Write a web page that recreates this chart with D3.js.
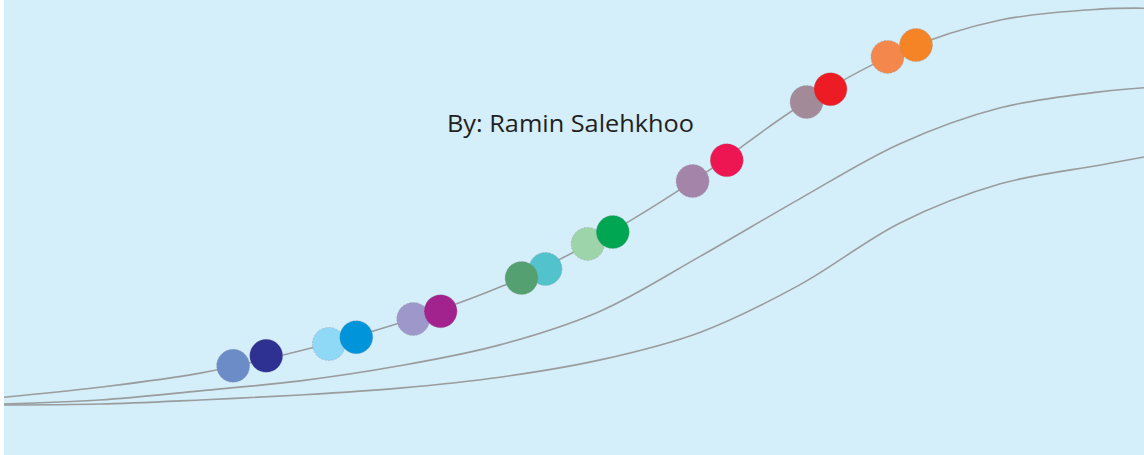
<!DOCTYPE html>
<html>
<head>
<meta charset="utf-8">
<script src="https://cdn.jsdelivr.net/npm/d3@7"></script>
<style>
  html, body { margin: 0; padding: 0; background: #ffffff; }
  svg { display: block; }
</style>
</head>
<body>
<svg id="chart" width="1144" height="455"></svg>
<script>
// ---- data (abstract units: x 0..100, y 0..100) ----
const gridX = [0, 8.4, 17.2, 26.0, 34.7, 43.5, 52.3, 61.1, 69.8, 78.6, 87.4, 96.1, 100];
const topCurve = [12.7, 14.9, 18.0, 22.9, 29.0, 36.9, 47.7, 61.3, 76.7, 88.6, 95.6, 98.0, 98.2];
const midCurve = [11.2, 12.1, 14.1, 16.3, 19.6, 24.2, 31.6, 43.7, 56.3, 68.4, 76.3, 79.8, 80.7];
const lowCurve = [11.0, 11.2, 12.1, 13.2, 14.7, 17.1, 20.9, 27.0, 37.4, 51.0, 59.6, 63.7, 65.5];

const dotX = [20.1, 23.0, 28.5, 30.9, 35.9, 38.3, 47.5, 45.4, 51.2, 53.4, 60.4, 63.4, 70.4, 72.5, 77.5, 80.0];
const dotY = [19.6, 21.8, 24.4, 25.9, 29.9, 31.6, 40.9, 38.9, 46.4, 49.0, 60.2, 64.8, 77.6, 80.4, 87.5, 90.1];
const dotColors = ["#6b8cc6", "#2e3192", "#8fd8f6", "#0095da", "#9e98ca", "#a3238e",
                   "#52c2cd", "#55a070", "#9dd4aa", "#00a651", "#a584aa", "#ee1652",
                   "#a28a98", "#ed1c24", "#f4874b", "#f58426"];

const credit = "By: Ramin Salehkhoo";

// ---- drawing ----
const W = 1144, H = 455;
const svg = d3.select("#chart");
const x = d3.scaleLinear().domain([0, 100]).range([4, W]);
const y = d3.scaleLinear().domain([0, 100]).range([H, 0]);

svg.append("rect").attr("x", 4).attr("y", 0).attr("width", W - 4).attr("height", H).attr("fill", "#d4eefa");

const line = d3.line().x(d => x(d[0])).y(d => y(d[1])).curve(d3.curveCatmullRom.alpha(0.5));
[lowCurve, midCurve, topCurve].forEach(c => {
  svg.append("path")
    .attr("d", line(gridX.map((gx, i) => [gx, c[i]])))
    .attr("fill", "none")
    .attr("stroke", "#9a9c9e")
    .attr("stroke-width", 1.6);
});

svg.selectAll("circle.dot")
  .data(dotX.map((dx, i) => ({x: dx, y: dotY[i], c: dotColors[i]})))
  .join("circle")
  .attr("class", "dot")
  .attr("cx", d => x(d.x))
  .attr("cy", d => y(d.y))
  .attr("r", 16.5)
  .attr("fill", d => d.c)
  .attr("stroke", "rgba(150,150,160,0.45)")
  .attr("stroke-width", 1)
  .attr("stroke-dasharray", "2,1.5");

svg.append("text")
  .attr("x", 447).attr("y", 132)
  .attr("font-family", "'Open Sans', 'DejaVu Sans', sans-serif")
  .attr("font-size", 24)
  .attr("fill", "#231f20")
  .attr("textLength", 247)
  .attr("lengthAdjust", "spacingAndGlyphs")
  .text(credit);
</script>
</body>
</html>
